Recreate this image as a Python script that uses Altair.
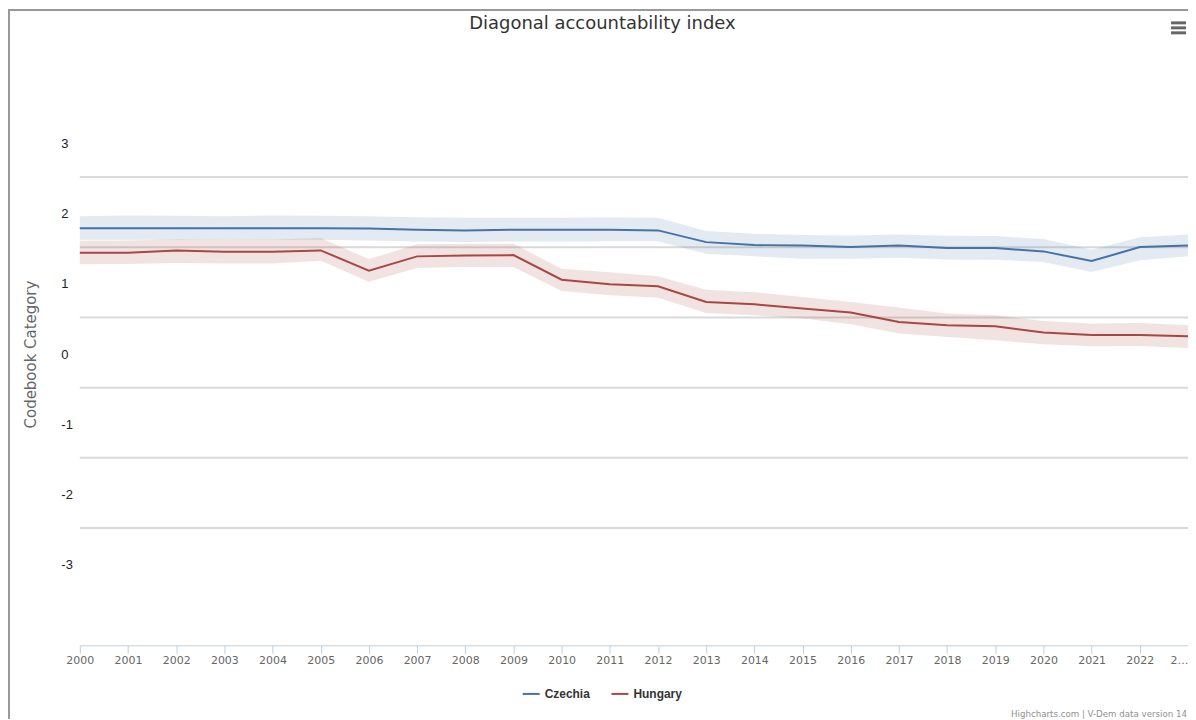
import altair as alt
import pandas as pd

# ---- data ----
years = list(range(2000, 2024))
countries = ["Czechia", "Hungary"]
colors = ["#4572A7", "#AA4643"]

czechia = [1.772, 1.772, 1.772, 1.772, 1.772, 1.772, 1.768, 1.750, 1.740, 1.750, 1.750, 1.750,
           1.740, 1.573, 1.531, 1.526, 1.502, 1.526, 1.488, 1.488, 1.441, 1.303, 1.502, 1.526]
czechia_high = [1.943, 1.953, 1.949, 1.943, 1.953, 1.949, 1.943, 1.929, 1.920, 1.920, 1.920, 1.925,
                1.920, 1.730, 1.693, 1.673, 1.669, 1.683, 1.664, 1.659, 1.616, 1.465, 1.644, 1.683]
czechia_low = [1.605, 1.605, 1.602, 1.605, 1.605, 1.605, 1.597, 1.583, 1.573, 1.583, 1.583, 1.587,
               1.587, 1.408, 1.370, 1.337, 1.337, 1.351, 1.327, 1.323, 1.289, 1.147, 1.313, 1.370]

hungary = [1.422, 1.422, 1.455, 1.437, 1.437, 1.455, 1.166, 1.370, 1.384, 1.388, 1.038, 0.972,
           0.943, 0.720, 0.687, 0.626, 0.569, 0.435, 0.388, 0.374, 0.284, 0.250, 0.250, 0.232]
hungary_high = [1.593, 1.597, 1.612, 1.607, 1.612, 1.630, 1.331, 1.541, 1.550, 1.550, 1.195, 1.143,
                1.086, 0.896, 0.858, 0.791, 0.720, 0.640, 0.555, 0.531, 0.450, 0.412, 0.421, 0.388]
hungary_low = [1.256, 1.263, 1.275, 1.270, 1.270, 1.309, 1.010, 1.203, 1.218, 1.218, 0.876, 0.815,
               0.782, 0.563, 0.531, 0.484, 0.403, 0.270, 0.222, 0.175, 0.118, 0.090, 0.094, 0.065]

y_tick_values = [3, 2, 1, 0, -1, -2, -3]
grid_values = [2.5, 1.5, 0.5, -0.5, -1.5, -2.5]

title_text = "Diagonal accountability index"
y_title = "Codebook Category"
credits_text = "Highcharts.com | V-Dem data version 14"

# ---- tables ----
rows = []
for name, v, lo, hi in [("Czechia", czechia, czechia_low, czechia_high),
                        ("Hungary", hungary, hungary_low, hungary_high)]:
    for yr, a, b, c in zip(years, v, lo, hi):
        rows.append({"country": name, "year": yr, "value": a, "low": b, "high": c})
df = pd.DataFrame(rows)
grid_df = pd.DataFrame({"g": grid_values})
one = pd.DataFrame({"k": [0]})

W, H = 1111, 575
xscale = alt.Scale(domain=[2000, 2023], nice=False, zero=False)
yscale = alt.Scale(domain=[-4.17, 4.0], nice=False, zero=False)

x_axis = alt.Axis(
    values=years, format="d", title=None, grid=False, labelAngle=0,
    labelExpr="datum.value == 2023 ? '2\u2026' : datum.label",
    labelAlign={"condition": {"test": "datum.value == 2023", "value": "right"}, "value": "center"},
    labelFlush=False, labelOverlap=False,
    labelFont="DejaVu Sans", labelFontSize=11, labelColor="#666", labelPadding=1,
    domainColor="#C0D0E0", domainWidth=1, tickColor="#C0D0E0", tickSize=8, tickWidth=1)

y_axis = alt.Axis(
    values=y_tick_values, title=y_title, grid=False, domain=False, ticks=False,
    labelAlign="left", labelBaseline="middle", labelPadding=19, labelOffset=1.5,
    labelFont="Liberation Sans", labelFontSize=13, labelColor="#222",
    labelExpr="datum.value < 0 ? '-' + abs(datum.value) : '' + datum.value",
    titleFont="DejaVu Sans", titleFontSize=15, titleFontWeight="normal", titleColor="#666",
    titleX=-49, titleY=283, titleAlign="center", titleBaseline="middle", titleAngle=270)

grid = alt.Chart(grid_df).mark_rule(color="#d9d9d9", strokeWidth=2).encode(
    y=alt.Y("g:Q", scale=yscale, axis=y_axis),
    x=alt.value(0), x2=alt.value(W),
)

bands = [
    alt.Chart(df).transform_filter(alt.datum.country == name)
    .mark_area(fill=col, fillOpacity=0.15, strokeWidth=0).encode(
        x=alt.X("year:Q", scale=xscale, axis=x_axis),
        y=alt.Y("low:Q", scale=yscale, axis=y_axis),
        y2="high:Q",
    )
    for name, col in zip(countries, colors)
]

lines = alt.Chart(df).mark_line(strokeWidth=2).encode(
    x=alt.X("year:Q", scale=xscale, axis=x_axis),
    y=alt.Y("value:Q", scale=yscale, axis=y_axis),
    color=alt.Color("country:N", scale=alt.Scale(domain=countries, range=colors), legend=alt.Legend(
        title=None, orient="none", legendX=443, legendY=614, direction="horizontal",
        symbolType="stroke", symbolSize=289, symbolStrokeWidth=2, labelFont="Liberation Sans",
        labelFontSize=12, labelFontWeight="bold", labelColor="#333", columnPadding=17,
        labelOffset=4)),
)

title = alt.Chart(one).mark_text(text=title_text, font="DejaVu Sans", fontSize=18, color="#333",
                                 align="center", baseline="middle").encode(
    x=alt.value(524), y=alt.value(-48))

credits = alt.Chart(one).mark_text(text=credits_text, font="DejaVu Sans", fontSize=8.7,
                                   color="#909090", align="right", baseline="alphabetic").encode(
    x=alt.value(1110), y=alt.value(647))

frame_left = alt.Chart(one).mark_rule(color="#999", strokeWidth=2).encode(
    x=alt.value(-71), y=alt.value(-63), y2=alt.value(649))
frame_top = alt.Chart(one).mark_rule(color="#999", strokeWidth=2).encode(
    y=alt.value(-62), x=alt.value(-72), x2=alt.value(W))

menu = [alt.Chart(one).mark_rule(color="#666", strokeWidth=3).encode(
    y=alt.value(yy), x=alt.value(1094), x2=alt.value(1109)) for yy in (-49, -44, -39)]

chart = alt.layer(grid, *bands, lines, title, credits, frame_left, frame_top, *menu).properties(
    width=W, height=H,
    autosize=alt.AutoSizeParams(type="none"),
    padding={"left": 72, "top": 63, "right": 0, "bottom": 74},
).configure(background="white").configure_view(stroke=None)

chart.save("out.html", embed_options={"renderer": "svg", "actions": False})
